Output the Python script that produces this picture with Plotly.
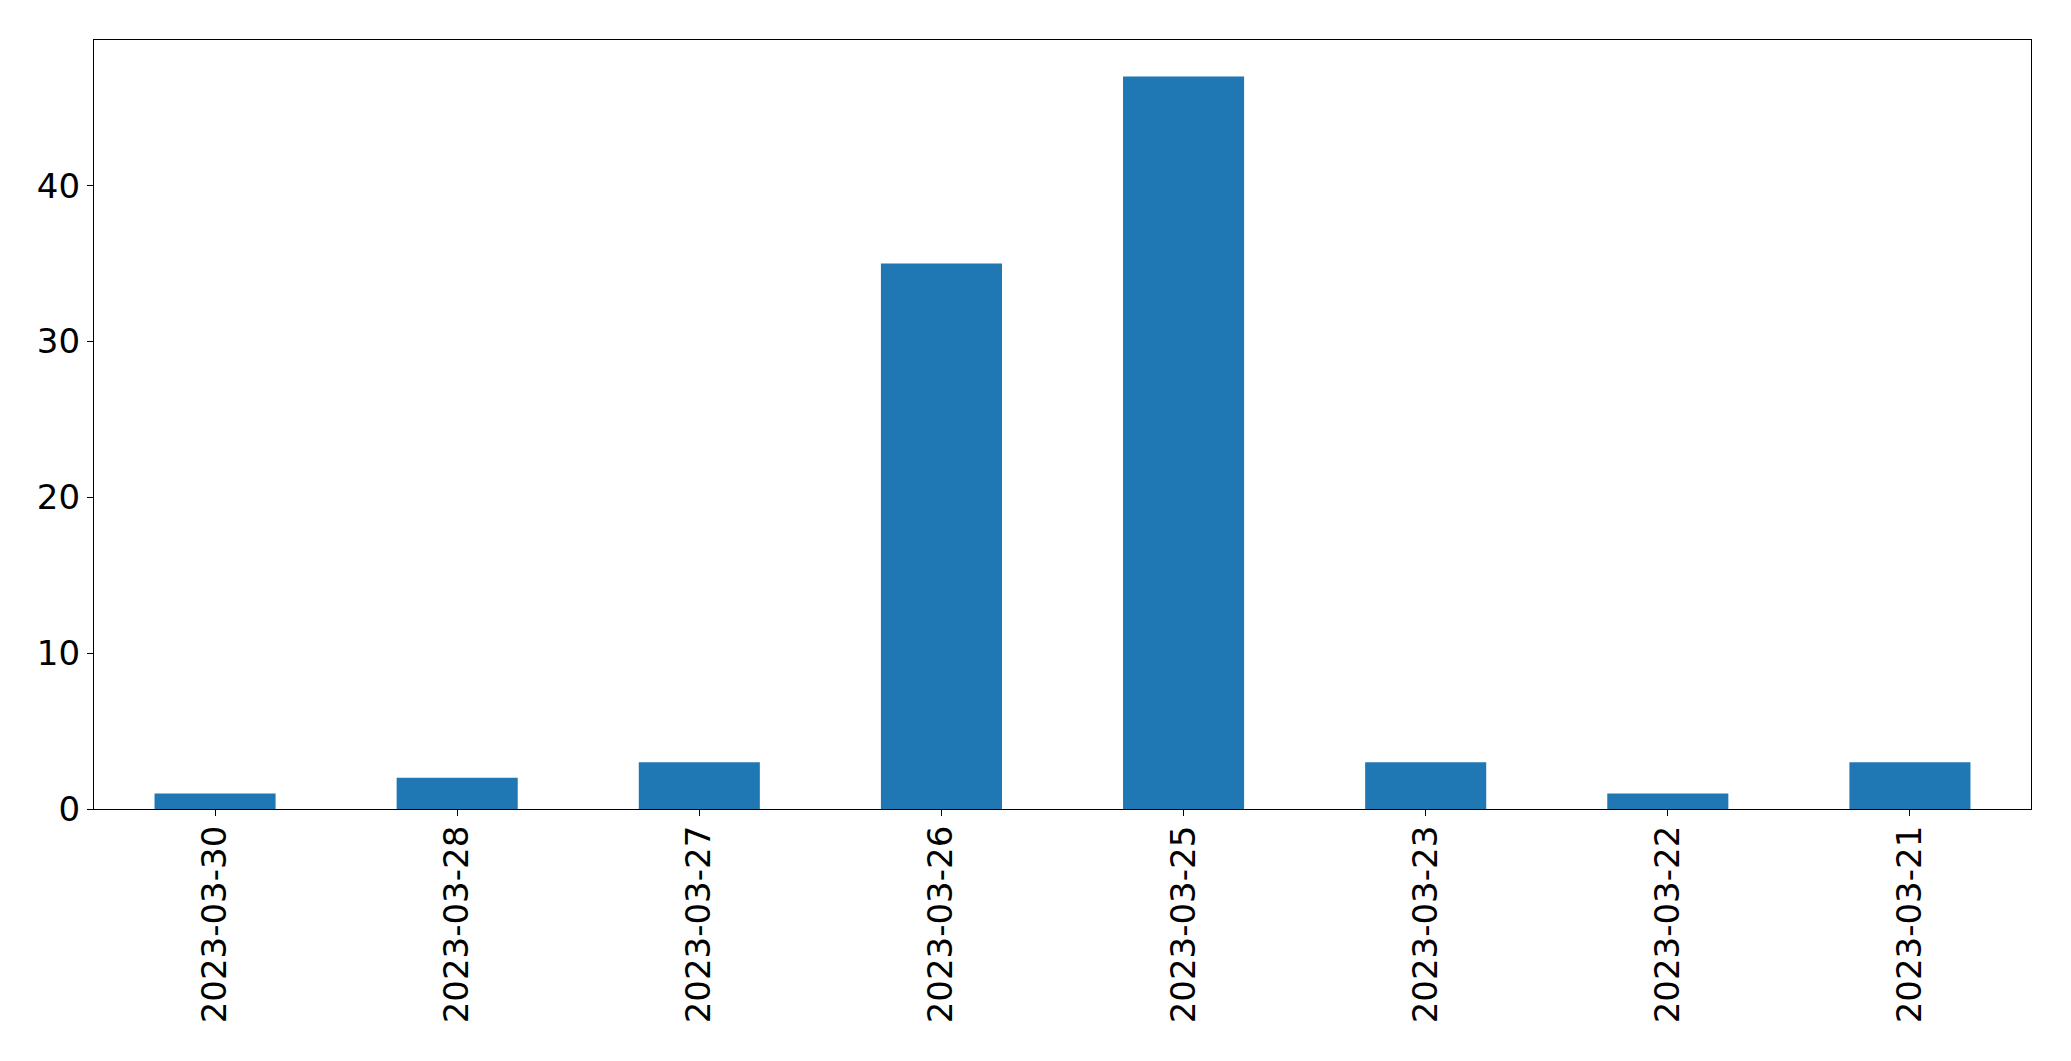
import plotly.graph_objects as go

dates = ["2023-03-30", "2023-03-28", "2023-03-27", "2023-03-26",
         "2023-03-25", "2023-03-23", "2023-03-22", "2023-03-21"]
counts = [1, 2, 3, 35, 47, 3, 1, 3]
y_ticks = [0, 10, 20, 30, 40]

fig = go.Figure(go.Bar(x=dates, y=counts, width=0.5, marker_color="#1f77b4",
                       marker_line_width=0))

fig.update_layout(
    width=2055, height=1045,
    margin=dict(l=86, r=32, t=32, b=244, autoexpand=False),
    plot_bgcolor="white", paper_bgcolor="white",
    font=dict(family="DejaVu Sans", size=34, color="black"),
    showlegend=False,
)
fig.update_xaxes(type="category", range=[-0.5, 7.5], tickangle=-90,
                 showline=True, linecolor="black", linewidth=1.3, mirror=True,
                 ticks="outside", ticklen=6, tickcolor="black", tickwidth=1.3,
                 ticklabelstandoff=-4,
                 showgrid=False, zeroline=False, automargin=False)
fig.update_yaxes(range=[0, 49.35], tickvals=y_ticks,
                 showline=True, linecolor="black", linewidth=1.3, mirror=True,
                 ticks="outside", ticklen=6, tickcolor="black", tickwidth=1.3,
                 ticklabelstandoff=0,
                 showgrid=False, zeroline=False, automargin=False)

fig.write_html("out.html")
